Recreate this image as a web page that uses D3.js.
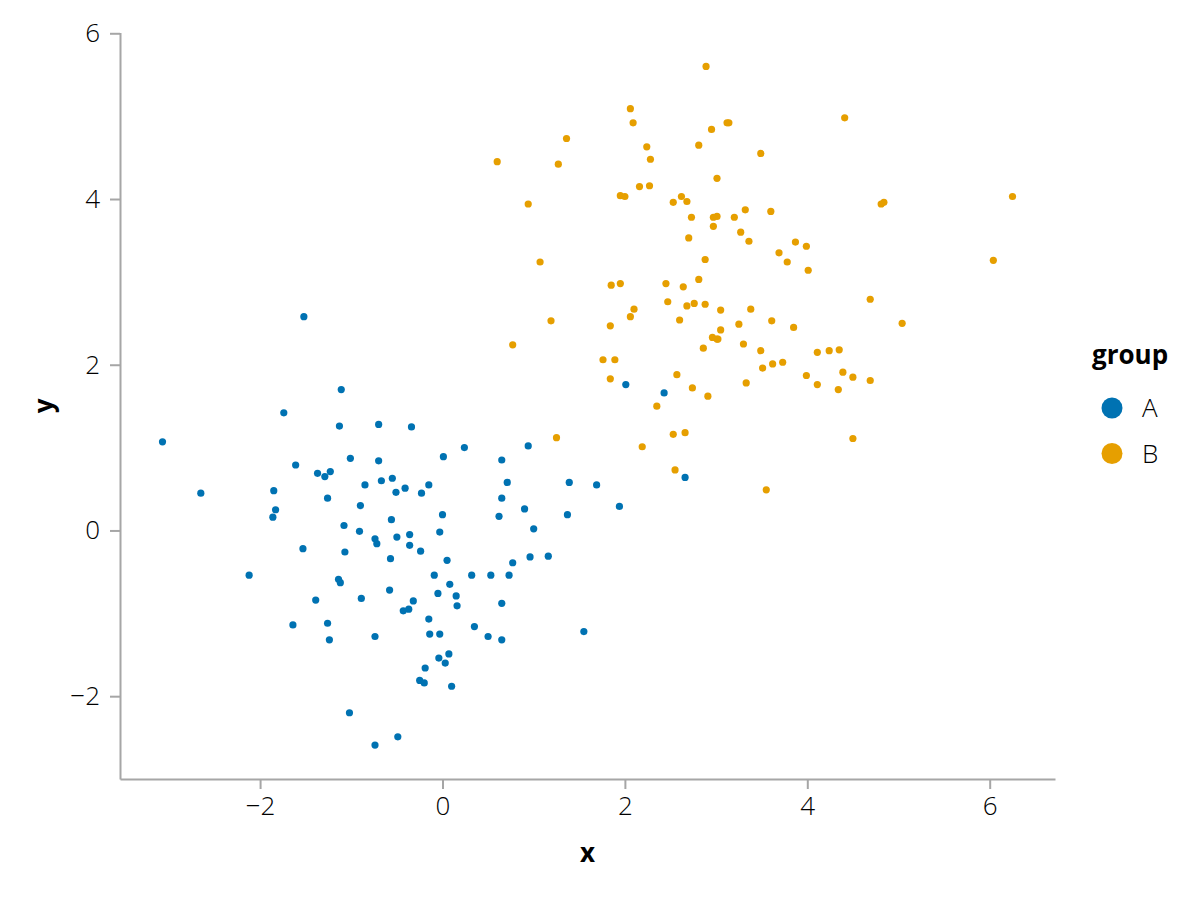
<!DOCTYPE html>
<html>
<head>
<meta charset="utf-8">
<script src="https://cdn.jsdelivr.net/npm/d3@7"></script>
<style>
  body { margin: 0; background: #fff; }
  svg text { font-family: "Open Sans", "Noto Sans", sans-serif; }
  .tick text { font-weight: 300; fill: #000; }
  .axis-label { font-weight: 700; }
</style>
</head>
<body>
<div id="chart"></div>
<script>
// group A (blue) points
var aX = [-1.52, -1.11, -1.74, -1.13, -3.07, -1.61, -1.37, -1.29, -1.23, -2.65,
          -1.85, -1.26, -1.83, -1.86, -0.70, -0.34, 0.24, 0.94, -1.01, -0.70,
          0.01, 0.65, -0.85, -0.67, -0.55, -0.51, -0.41, -0.15, -0.23, 0.71,
          0.65, -0.90, -0.56, 0.00, 0.62, 0.90, -1.08, -0.91, -0.74, -0.72,
          -0.50, -0.36, -0.36, -0.24, -0.03, -1.07, -0.57, 0.05, 0.77, 0.96,
          -1.14, -1.12, -0.09, 0.32, 0.53, 0.73, -2.12, 0.08, -1.39, -0.89,
          -0.58, -0.05, 0.15, 0.16, 0.65, -0.32, -0.43, -0.37, -0.15, -1.64,
          -1.26, -1.24, -0.74, -0.14, -0.03, 0.35, 0.50, 0.65, 0.07, -0.04,
          0.03, -0.19, -0.25, -0.20, 0.10, -1.02, -0.49, -0.74, 2.01, 2.43,
          1.39, 1.69, 2.66, 1.37, 1.94, 1.00, 1.16, 1.55, -1.53];
var aY = [2.58, 1.70, 1.42, 1.26, 1.07, 0.79, 0.69, 0.65, 0.71, 0.45,
          0.48, 0.39, 0.25, 0.16, 1.28, 1.25, 1.00, 1.02, 0.87, 0.84,
          0.89, 0.85, 0.55, 0.60, 0.63, 0.46, 0.51, 0.55, 0.45, 0.58,
          0.39, 0.30, 0.13, 0.19, 0.17, 0.26, 0.06, -0.01, -0.10, -0.16,
          -0.08, -0.05, -0.18, -0.25, -0.02, -0.26, -0.34, -0.36, -0.39, -0.32,
          -0.59, -0.63, -0.54, -0.54, -0.54, -0.54, -0.54, -0.65, -0.84, -0.82,
          -0.72, -0.76, -0.79, -0.91, -0.88, -0.85, -0.97, -0.95, -1.07, -1.14,
          -1.12, -1.32, -1.28, -1.25, -1.25, -1.16, -1.28, -1.32, -1.49, -1.54,
          -1.60, -1.66, -1.81, -1.84, -1.88, -2.20, -2.49, -2.59, 1.76, 1.66,
          0.58, 0.55, 0.64, 0.19, 0.29, 0.02, -0.31, -1.22, -0.22];

// group B (orange) points
var bX = [2.89, 2.06, 2.09, 3.12, 3.14, 2.95, 1.36, 2.24, 2.28, 2.81,
          3.49, 0.60, 1.27, 3.01, 2.16, 2.27, 1.95, 2.00, 2.53, 2.62,
          2.68, 3.32, 0.94, 2.73, 2.97, 3.01, 3.20, 2.97, 3.27, 3.36,
          2.70, 1.07, 2.88, 4.41, 6.25, 4.81, 4.84, 3.60, 3.87, 3.99,
          3.69, 3.78, 4.01, 6.04, 1.85, 1.95, 2.45, 2.64, 2.81, 2.47,
          2.68, 2.76, 2.88, 3.05, 3.38, 2.10, 2.06, 1.19, 1.84, 2.60,
          3.05, 3.25, 2.96, 3.01, 3.02, 3.30, 2.86, 3.49, 0.77, 1.76,
          1.89, 1.84, 2.57, 2.74, 2.91, 2.35, 3.33, 1.25, 2.53, 2.66,
          2.19, 2.55, 4.69, 3.61, 3.85, 5.04, 4.11, 4.24, 4.35, 3.51,
          3.62, 3.73, 3.99, 4.11, 4.34, 4.39, 4.50, 4.69, 4.50, 3.55];
var bY = [5.60, 5.09, 4.92, 4.92, 4.92, 4.84, 4.73, 4.63, 4.48, 4.65,
          4.55, 4.45, 4.42, 4.25, 4.15, 4.16, 4.04, 4.03, 3.96, 4.03,
          3.97, 3.87, 3.94, 3.78, 3.78, 3.79, 3.78, 3.67, 3.60, 3.49,
          3.53, 3.24, 3.27, 4.98, 4.03, 3.94, 3.96, 3.85, 3.48, 3.43,
          3.35, 3.24, 3.14, 3.26, 2.96, 2.98, 2.98, 2.94, 3.03, 2.76,
          2.71, 2.74, 2.73, 2.66, 2.67, 2.67, 2.58, 2.53, 2.47, 2.54,
          2.42, 2.49, 2.33, 2.31, 2.31, 2.25, 2.20, 2.17, 2.24, 2.06,
          2.06, 1.83, 1.88, 1.72, 1.62, 1.50, 1.78, 1.12, 1.16, 1.18,
          1.01, 0.73, 2.79, 2.53, 2.45, 2.50, 2.15, 2.17, 2.18, 1.96,
          2.01, 2.03, 1.87, 1.76, 1.70, 1.91, 1.85, 1.81, 1.11, 0.49];

var groups = ["A", "B"];
var colors = ["#0072B2", "#E69F00"];
var xTicks = [-2, 0, 2, 4, 6];
var yTicks = [-2, 0, 2, 4, 6];

var width = 1200, height = 900;
var plotLeft = 120, plotRight = 1055, plotTop = 32.5, plotBottom = 779;

var svg = d3.select("#chart").append("svg")
    .attr("width", width)
    .attr("height", height);

// limits with 5% padding like the original
function padded(vals) {
    var e = d3.extent(vals), p = (e[1] - e[0]) * 0.05;
    return [e[0] - p, e[1] + p];
}

var x = d3.scaleLinear().domain(padded(aX.concat(bX))).range([plotLeft, plotRight]);
var y = d3.scaleLinear().domain(padded(aY.concat(bY))).range([plotBottom, plotTop]);
var color = d3.scaleOrdinal().domain(groups).range(colors);

function fmt(d) { return d < 0 ? "\u2212" + Math.abs(d) : d; }

// axes
var xAxis = svg.append("g")
    .attr("transform", "translate(0," + plotBottom + ")")
    .call(d3.axisBottom(x).tickValues(xTicks).tickSize(10).tickSizeOuter(0).tickPadding(8).tickFormat(fmt));
var yAxis = svg.append("g")
    .attr("transform", "translate(" + plotLeft + ",0)")
    .call(d3.axisLeft(y).tickValues(yTicks).tickSize(10).tickSizeOuter(0).tickPadding(10).tickFormat(fmt));

[xAxis, yAxis].forEach(function(ax) {
    ax.select(".domain").attr("stroke", "#a6a6a6").attr("stroke-width", 2);
    ax.selectAll(".tick line").attr("stroke", "#a6a6a6").attr("stroke-width", 2);
    ax.selectAll(".tick text").attr("font-size", 26);
});

// axis titles
svg.append("text")
    .attr("class", "axis-label")
    .attr("x", (plotLeft + plotRight) / 2)
    .attr("y", 862)
    .attr("text-anchor", "middle")
    .attr("font-size", 26)
    .text("x");
svg.append("text")
    .attr("class", "axis-label")
    .attr("transform", "translate(53," + (plotTop + plotBottom) / 2 + ") rotate(-90)")
    .attr("text-anchor", "middle")
    .attr("font-size", 26)
    .text("y");

// points
var data = [];
aX.forEach(function(v, i) { data.push({ x: v, y: aY[i], g: "A" }); });
bX.forEach(function(v, i) { data.push({ x: v, y: bY[i], g: "B" }); });

svg.append("g").selectAll("circle")
    .data(data)
    .enter()
    .append("circle")
    .attr("cx", function(d) { return x(d.x); })
    .attr("cy", function(d) { return y(d.y); })
    .attr("r", 3.6)
    .attr("fill", function(d) { return color(d.g); });

// legend
var legend = svg.append("g");
legend.append("text")
    .attr("x", 1092)
    .attr("y", 364)
    .attr("font-size", 26)
    .attr("font-weight", 700)
    .text("group");
var item = legend.selectAll(".item")
    .data(groups)
    .enter()
    .append("g")
    .attr("class", "item")
    .attr("transform", function(d, i) { return "translate(1112," + (408 + i * 45.5) + ")"; });
item.append("circle")
    .attr("r", 10.5)
    .attr("fill", function(d) { return color(d); });
item.append("text")
    .attr("x", 30)
    .attr("dy", "0.35em")
    .attr("font-size", 26)
    .attr("font-weight", 300)
    .text(function(d) { return d; });
</script>
</body>
</html>
